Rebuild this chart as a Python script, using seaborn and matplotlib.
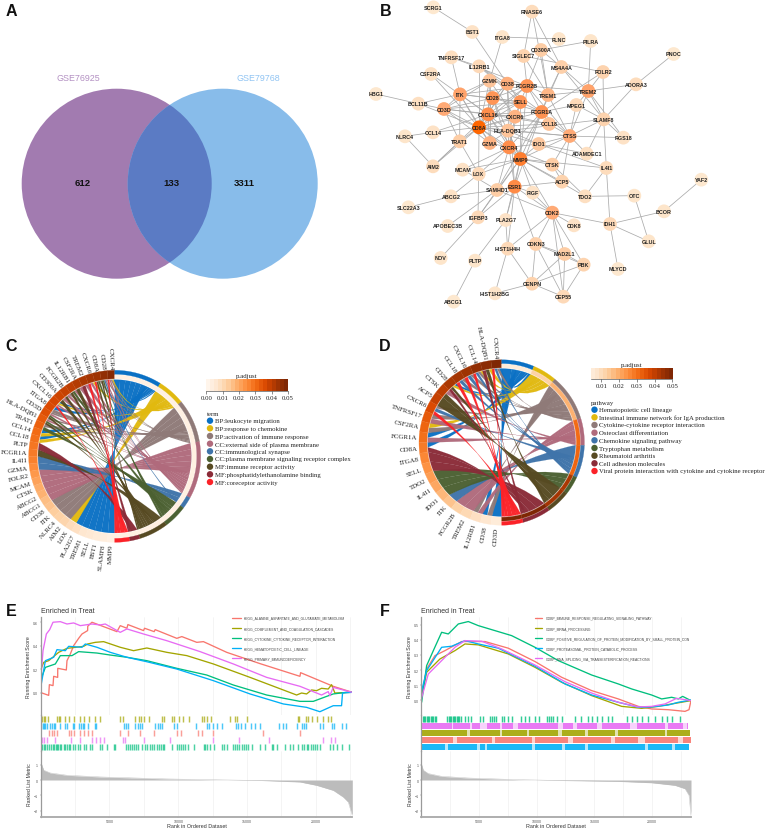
import numpy as np
import pandas as pd
import matplotlib
matplotlib.use('Agg')
import matplotlib.pyplot as plt
import seaborn as sns
from matplotlib.patches import Circle, PathPatch
from matplotlib.path import Path
from matplotlib.lines import Line2D

W, H = 770, 829

# ---- panel A
venn_names = ['GSE76925', 'GSE79768']
venn_counts = [612, 133, 3311]

# ---- panel B
node_names = ['SCRG1', 'RNASE6', 'BST1', 'ITGA8', 'FLNC', 'PILRA', 'CD300A', 'SIGLEC7', 'PNOC', 'TNFRSF17',
              'IL12RB1', 'MS4A4A', 'FOLR2', 'CSF2RA', 'GZMK', 'CD38', 'FCGR2B', 'ADORA3', 'TREM2', 'ITK',
              'TREM1', 'CD28', 'SELL', 'BCL11B', 'MPEG1', 'CD3D', 'FCGR1A', 'CXCL16', 'CXCR6', 'SLAMF8',
              'CCL18', 'CD8A', 'CCL14', 'HLA-DQB1', 'RGS18', 'NLRC4', 'CTSS', 'TRAT1', 'GZMA', 'IDO1',
              'CXCR4', 'ADAMDEC1', 'MMP9', 'AIM2', 'CTSK', 'MCAM', 'IL4I1', 'LOX', 'ACP5', 'SAMHD1',
              'ESR1', 'YAF2', 'FIGF', 'ABCG2', 'TDO2', 'OTC', 'SLC22A3', 'CDK2', 'BCOR', 'IGFBP3',
              'PLA2G7', 'APOBEC3B', 'CDK8', 'IDH1', 'GLUL', 'CDKN3', 'HIST1H4H', 'MAD2L1', 'NOV', 'PLTP',
              'PBK', 'MLYCD', 'CENPN', 'HIST1H2BG', 'CEP55', 'ABCG1', 'HBG1']
node_x = [145, 441, 262, 352, 522, 617, 468, 416, 866, 199,
          282, 529, 654, 138, 314, 367, 426, 753, 610, 225,
          489, 323, 406, 100, 574, 177, 470, 309, 390, 656,
          492, 282, 144, 369, 715, 60, 554, 224, 314, 461,
          372, 605, 406, 144, 502, 233, 664, 281, 531, 336,
          389, 949, 443, 198, 600, 748, 70, 502, 837, 279,
          362, 188, 567, 675, 791, 452, 368, 539, 167, 270,
          596, 699, 441, 330, 535, 206, -27]
node_y = [25, 38, 99, 114, 120, 126, 153, 171, 165, 175,
          202, 204, 219, 225, 245, 254, 261, 256, 276, 286,
          288, 297, 309, 314, 318, 330, 339, 346, 353, 361,
          375, 385, 400, 395, 416, 412, 411, 427, 432, 435,
          445, 464, 480, 502, 497, 512, 507, 525, 548, 573,
          563, 542, 581, 592, 592, 590, 625, 641, 637, 655,
          663, 681, 679, 675, 727, 735, 749, 765, 777, 785,
          797, 810, 854, 883, 893, 908, 285]
node_degree = [1, 5, 3, 2, 2, 2, 10, 8, 1, 4,
               6, 9, 8, 3, 12, 17, 24, 5, 20, 20,
               15, 24, 24, 4, 6, 18, 25, 26, 16, 8,
               12, 40, 3, 12, 3, 2, 18, 10, 16, 11,
               26, 4, 30, 5, 10, 3, 5, 6, 8, 10,
               27, 1, 3, 3, 4, 2, 1, 18, 2, 6,
               3, 2, 3, 6, 2, 9, 6, 10, 2, 2,
               8, 1, 8, 2, 6, 1, 1]
edges = [('SCRG1', 'BST1'), ('BST1', 'CD38'), ('ITGA8', 'FLNC'), ('ITGA8', 'GZMK'), ('RNASE6', 'SIGLEC7'),
         ('RNASE6', 'MS4A4A'), ('RNASE6', 'TREM1'), ('PILRA', 'CD300A'), ('PILRA', 'TREM2'), ('CD300A', 'FCGR2B'),
         ('CD300A', 'SIGLEC7'), ('CD300A', 'TREM1'), ('CD300A', 'MS4A4A'), ('SIGLEC7', 'FCGR2B'), ('SIGLEC7', 'TREM1'),
         ('SIGLEC7', 'FOLR2'), ('MS4A4A', 'TREM2'), ('MS4A4A', 'TREM1'), ('MS4A4A', 'FCGR1A'), ('MS4A4A', 'SLAMF8'),
         ('PNOC', 'ADORA3'), ('ADORA3', 'SLAMF8'), ('ADORA3', 'TREM2'), ('FOLR2', 'TREM2'), ('FOLR2', 'SLAMF8'),
         ('FOLR2', 'FCGR1A'), ('TREM2', 'FCGR2B'), ('TREM2', 'TREM1'), ('TREM2', 'SLAMF8'), ('TREM2', 'CTSS'),
         ('TREM2', 'RGS18'), ('TREM2', 'MPEG1'), ('TNFRSF17', 'IL12RB1'), ('TNFRSF17', 'ITK'), ('TNFRSF17', 'FCGR2B'),
         ('IL12RB1', 'SELL'), ('IL12RB1', 'CD8A'), ('IL12RB1', 'FCGR1A'), ('IL12RB1', 'CD38'), ('CSF2RA', 'CD8A'),
         ('CSF2RA', 'CXCL16'), ('BCL11B', 'HBG1'), ('BCL11B', 'ITK'), ('BCL11B', 'CD8A'), ('BCL11B', 'CD3D'),
         ('CD3D', 'ITK'), ('CD3D', 'CD8A'), ('CD3D', 'CD28'), ('CD3D', 'CXCL16'), ('CD3D', 'TRAT1'),
         ('CD3D', 'GZMA'), ('CD3D', 'CXCR6'), ('CD3D', 'SELL'), ('NLRC4', 'AIM2'), ('NLRC4', 'CCL14'),
         ('CCL14', 'CD8A'), ('CCL14', 'CXCL16'), ('TRAT1', 'CD8A'), ('TRAT1', 'ITK'), ('TRAT1', 'AIM2'),
         ('TRAT1', 'LOX'), ('AIM2', 'CD8A'), ('AIM2', 'CXCL16'), ('ITK', 'CD8A'), ('ITK', 'CD28'),
         ('ITK', 'CXCL16'), ('ITK', 'FCGR2B'), ('ITK', 'GZMA'), ('ITK', 'SELL'), ('GZMK', 'CD8A'),
         ('GZMK', 'CXCL16'), ('GZMK', 'ITK'), ('GZMK', 'FCGR2B'), ('GZMK', 'GZMA'), ('GZMK', 'CD3D'),
         ('GZMK', 'CXCR6'), ('CD38', 'CD8A'), ('CD38', 'CXCL16'), ('CD38', 'CD28'), ('CD38', 'FCGR2B'),
         ('CD38', 'SELL'), ('CD38', 'CXCR4'), ('CD38', 'ESR1'), ('CD28', 'CD8A'), ('CD28', 'CXCL16'),
         ('CD28', 'FCGR2B'), ('CD28', 'SELL'), ('CD28', 'CXCR4'), ('CD28', 'MMP9'), ('CD28', 'FCGR1A'),
         ('FCGR2B', 'FCGR1A'), ('FCGR2B', 'SELL'), ('FCGR2B', 'CD8A'), ('FCGR2B', 'CXCL16'), ('FCGR2B', 'TREM1'),
         ('FCGR2B', 'MMP9'), ('FCGR2B', 'CTSS'), ('SELL', 'CD8A'), ('SELL', 'CXCL16'), ('SELL', 'CXCR4'),
         ('SELL', 'MMP9'), ('SELL', 'FCGR1A'), ('SELL', 'CXCR6'), ('CXCL16', 'CD8A'), ('CXCL16', 'CXCR6'),
         ('CXCL16', 'CXCR4'), ('CXCL16', 'HLA-DQB1'), ('CXCL16', 'MMP9'), ('CXCL16', 'FCGR1A'), ('CXCL16', 'GZMA'),
         ('CXCL16', 'CCL18'), ('CD8A', 'CXCR6'), ('CD8A', 'CXCR4'), ('CD8A', 'HLA-DQB1'), ('CD8A', 'GZMA'),
         ('CD8A', 'IDO1'), ('CD8A', 'MMP9'), ('CD8A', 'FCGR1A'), ('CD8A', 'LOX'), ('CD8A', 'CCL18'),
         ('CD8A', 'CTSS'), ('FCGR1A', 'TREM1'), ('FCGR1A', 'CCL18'), ('FCGR1A', 'CXCR4'), ('FCGR1A', 'MMP9'),
         ('FCGR1A', 'CTSS'), ('FCGR1A', 'ESR1'), ('FCGR1A', 'SAMHD1'), ('FCGR1A', 'MPEG1'), ('CXCR6', 'CXCR4'),
         ('CXCR6', 'HLA-DQB1'), ('CXCR6', 'CCL18'), ('HLA-DQB1', 'CTSS'), ('HLA-DQB1', 'IDO1'), ('HLA-DQB1', 'GZMA'),
         ('HLA-DQB1', 'CXCR4'), ('HLA-DQB1', 'MMP9'), ('HLA-DQB1', 'SLAMF8'), ('CTSS', 'MPEG1'), ('CTSS', 'SLAMF8'),
         ('CTSS', 'CCL18'), ('CTSS', 'ADAMDEC1'), ('CTSS', 'ACP5'), ('CTSS', 'CTSK'), ('CTSS', 'MMP9'),
         ('CTSS', 'RGS18'), ('CTSS', 'IDO1'), ('CTSS', 'TREM1'), ('SLAMF8', 'RGS18'), ('SLAMF8', 'ADAMDEC1'),
         ('SLAMF8', 'IL4I1'), ('SLAMF8', 'MPEG1'), ('IDO1', 'MMP9'), ('IDO1', 'CXCR4'), ('IDO1', 'IL4I1'),
         ('IDO1', 'ADAMDEC1'), ('CXCR4', 'MMP9'), ('CXCR4', 'ESR1'), ('CXCR4', 'SAMHD1'), ('CXCR4', 'LOX'),
         ('CXCR4', 'MCAM'), ('CXCR4', 'GZMA'), ('CXCR4', 'CTSK'), ('MMP9', 'ESR1'), ('MMP9', 'CTSK'),
         ('MMP9', 'ACP5'), ('MMP9', 'LOX'), ('MMP9', 'MCAM'), ('MMP9', 'SAMHD1'), ('MMP9', 'CDK2'),
         ('MMP9', 'FIGF'), ('MMP9', 'IGFBP3'), ('MMP9', 'IL4I1'), ('MMP9', 'TDO2'), ('MMP9', 'PLA2G7'),
         ('ESR1', 'ACP5'), ('ESR1', 'SAMHD1'), ('ESR1', 'CDK2'), ('ESR1', 'CDKN3'), ('ESR1', 'IGFBP3'),
         ('ESR1', 'HIST1H4H'), ('ESR1', 'PLA2G7'), ('ESR1', 'FIGF'), ('CTSK', 'TDO2'), ('CTSK', 'ACP5'),
         ('IL4I1', 'TDO2'), ('IL4I1', 'IDH1'), ('TDO2', 'OTC'), ('OTC', 'GLUL'), ('BCOR', 'YAF2'),
         ('BCOR', 'IDH1'), ('IDH1', 'GLUL'), ('IDH1', 'MLYCD'), ('IDH1', 'CDK2'), ('SAMHD1', 'ABCG2'),
         ('SAMHD1', 'APOBEC3B'), ('SAMHD1', 'IGFBP3'), ('SAMHD1', 'CDK2'), ('SAMHD1', 'MCAM'), ('ABCG2', 'SLC22A3'),
         ('ABCG2', 'LOX'), ('IGFBP3', 'NOV'), ('IGFBP3', 'LOX'), ('PLA2G7', 'PLTP'), ('PLTP', 'ABCG1'),
         ('CDK2', 'CDK8'), ('CDK2', 'FIGF'), ('CDK2', 'CDKN3'), ('CDK2', 'MAD2L1'), ('CDK2', 'PBK'),
         ('CDK2', 'HIST1H4H'), ('CDK2', 'CEP55'), ('CDKN3', 'MAD2L1'), ('CDKN3', 'PBK'), ('CDKN3', 'CENPN'),
         ('CDKN3', 'CEP55'), ('HIST1H4H', 'CENPN'), ('HIST1H4H', 'HIST1H2BG'), ('HIST1H4H', 'PLA2G7'), ('MAD2L1', 'PBK'),
         ('MAD2L1', 'CENPN'), ('MAD2L1', 'CEP55'), ('PBK', 'CENPN'), ('PBK', 'CEP55'), ('CENPN', 'HIST1H2BG'),
         ('CENPN', 'CEP55')]

# ---- panel C, genes run from the top of the circle down the left side
c_terms = ['BP:leukocyte migration', 'BP:response to chemokine', 'BP:activation of immune response',
           'CC:external side of plasma membrane', 'CC:immunological synapse',
           'CC:plasma membrane signaling receptor complex', 'MF:immune receptor activity',
           'MF:phosphatidylethanolamine binding', 'MF:coreceptor activity']
c_term_share = [32, 18.6, 29.4, 38.7, 8, 16, 20, 7, 10]
c_genes = ['CXCR4', 'CD28', 'CD8A', 'CXCR6', 'TREM2', 'CSF2RA', 'IL12RB1', 'FCGR2B', 'CD300A', 'CXCL16',
           'ITGA8', 'CD3D', 'HLA-DQB1', 'TRAT1', 'CCL14', 'CCL18', 'PLTP', 'FCGR1A', 'IL4I1', 'GZMA',
           'FOLR2', 'MCAM', 'CTSK', 'ABCG2', 'ABCG1', 'CD38', 'ITK', 'NLRC4', 'AIM2', 'LOX',
           'PLA2G7', 'TREM1', 'SELL', 'BST1', 'SLAMF8', 'MMP9']
c_links = [[0, 1, 2, 3, 8], [2, 3, 4, 5, 6], [2, 5, 6, 8], [1, 3, 8], [3, 7], [3, 6], [3, 5, 6], [2, 3, 6], [3, 6],
           [0, 1, 3, 8], [0, 2], [2, 3, 5, 6], [2, 3, 5, 6], [2, 5], [0, 1], [0, 1], [7], [6], [4], [4],
           [3], [3], [3], [3], [3], [2], [2], [2], [2], [1],
           [0], [0], [0], [0], [0], [0]]
c_gene_padj = [.049, .047, .045, .044, .043, .042, .041, .040, .039, .038,
               .037, .036, .034, .033, .031, .030, .029, .028, .027, .025,
               .023, .021, .019, .018, .016, .015, .013, .012, .011, .009,
               .008, .006, .005, .004, .003, .002]
c_term_padj = [.002, .002, .002, .002, .002, .002, .002, .002, .002]

# ---- panel D
d_terms = ['Hematopoietic cell lineage', 'Intestinal immune network for IgA production',
           'Cytokine-cytokine receptor interaction', 'Osteoclast differentiation', 'Chemokine signaling pathway',
           'Tryptophan metabolism', 'Rheumatoid arthritis', 'Cell adhesion molecules',
           'Viral protein interaction with cytokine and cytokine receptor']
d_term_share = [23, 17, 33, 19, 23, 13, 17, 20, 15]
d_genes = ['CXCR4', 'HLA-DQB1', 'CCL14', 'CXCL16', 'CCL18', 'CD28', 'CTSK', 'ACP5', 'CXCR6', 'TNFRSF17',
           'CSF2RA', 'FCGR1A', 'CD8A', 'ITGA8', 'SELL', 'TDO2', 'IL4I1', 'IDO1', 'ITK', 'FCGR2B',
           'TREM2', 'IL12RB1', 'CD38', 'CD3D']
d_links = [[0, 2, 4, 8], [1, 6, 7], [1, 2, 4, 8], [2, 4, 8], [2, 4, 8], [0, 1, 6, 7], [3, 6], [6], [2, 4, 8], [2, 3],
           [1, 2], [0, 3], [0, 7], [7], [7], [5], [5], [5], [4], [3],
           [3], [2, 3], [0, 2], [0]]
d_gene_padj = [.050, .048, .047, .045, .044, .043, .041, .040, .037, .034,
               .032, .030, .028, .026, .024, .022, .020, .017, .015, .012,
               .010, .008, .006, .004]
d_term_padj = [.004, .012, .018, .031, .032, .043, .044, .050, .050]

term_colors = ['#0a70c4', '#e1b90f', '#8f7a78', '#b06a7c', '#3f74aa', '#4b6031', '#574a22', '#8a2b38', '#fb2228']

# ---- panel E
e_sets = ['KEGG_ALANINE_ASPARTATE_AND_GLUTAMATE_METABOLISM', 'KEGG_COMPLEMENT_AND_COAGULATION_CASCADES',
          'KEGG_CYTOKINE_CYTOKINE_RECEPTOR_INTERACTION', 'KEGG_HEMATOPOIETIC_CELL_LINEAGE',
          'KEGG_PRIMARY_IMMUNODEFICIENCY']
e_rank_red = [24, 581, 629, 895, 943, 1234, 1240, 1863, 1911, 2153, 2395, 2758, 3000, 3411, 3420, 3725, 5540, 5781, 6265, 6338,
              7475, 7547, 8249, 8321, 9894, 10257, 11345, 11829, 13522, 15941, 18844, 18892, 21263, 22642]
e_score_red = [0, -.023, .068, .06, .139, .13, .207, .193, .272, .329, .40, .462, .499, .528, .565, .599, .519, .57, .548, .579,
               .528, .548, .519, .536, .462, .477, .428, .434, .343, .247, .139, .170, .054, .003]
e_rank_olive = [24, 218, 581, 1306, 1911, 3121, 3411, 3967, 4572, 5781, 6749, 7716, 9168, 10619, 12555, 15216, 18602, 18965,
                19328, 19691, 20054, 20416, 20900, 21142, 21384, 22642]
e_score_olive = [.202, .258, .272, .343, .377, .394, .414, .428, .434, .386, .357, .380, .343, .315, .244, .130, -.020, -.003,
                 -.011, .023, .017, .037, .031, .068, -.003, .003]
e_rank_green = [24, 339, 1064, 1427, 2274, 2758, 4088, 5056, 6265, 7716, 9894, 12071, 14006, 16425, 18844, 19812, 21263, 22231, 22642]
e_score_green = [.116, .215, .244, .315, .315, .349, .337, .320, .301, .272, .207, .150, .065, -.020, -.074, -.074, -.011, .003, .003]
e_rank_blue = [24, 339, 943, 1185, 1790, 2032, 3000, 3241, 4088, 5056, 6265, 7716, 9894, 12555, 15216, 17635, 19328, 20295, 21263,
               21868, 21941, 22642]
e_score_blue = [.060, .272, .301, .366, .357, .394, .386, .414, .386, .343, .301, .263, .201, .102, -.011, -.096, -.125, -.162, -.111,
                -.111, -.003, .003]
e_rank_magenta = [24, 169, 411, 653, 895, 1427, 1911, 2395, 2879, 3725, 4330, 4692, 5781, 6265, 7475, 9168, 11587, 14006, 16425,
                  18844, 20416, 20900, 21021, 21263, 22642]
e_score_magenta = [.145, .357, .499, .536, .599, .604, .584, .593, .570, .584, .576, .584, .513, .542, .499, .442, .349, .244, .130,
                   .054, -.020, .009, -.026, .045, .003]
e_rug_olive = [97, 218, 339, 508, 1186, 1307, 1428, 1791, 2033, 2444, 2880, 3122, 3485, 3969, 4332, 5784, 5977, 6873, 7115, 7284,
               7478, 7841, 8809, 8930, 9535, 9656, 10019, 10333, 10745, 11713, 11882, 12076, 12366, 13770, 14133, 14302, 15028,
               18682, 18803, 19287, 19457, 19699, 20062, 20497, 20909, 21078]
e_rug_blue = [48, 145, 242, 339, 436, 702, 823, 944, 1065, 1428, 1791, 1912, 2348, 2444, 2759, 2928, 3074, 3170, 3412, 3969, 4041,
              6074, 6219, 6316, 6873, 7042, 7187, 7357, 8325, 8494, 8688, 8809, 9656, 9898, 11301, 12076, 12269, 12560, 12802,
              13165, 14182, 14375, 14544, 14859, 15270, 15585, 15948, 17352, 17642, 17836, 18610, 18973, 19142, 19287, 20304,
              20497, 21151, 21345, 21877, 22192]
e_rug_red = [605, 823, 944, 1186, 2033, 2202, 2444, 2831, 3122, 3412, 3727, 5784, 6316, 7236, 8204, 9898, 10188, 11398, 11713,
             12511, 16141, 18852]
e_rug_magenta = [97, 266, 460, 1065, 2202, 2880, 3727, 4041, 4332, 4622, 5977, 6147, 7478, 9414, 12560, 14447, 16625, 20497, 21078, 21393]
e_rug_green = [24, 121, 218, 339, 460, 605, 750, 895, 992, 1089, 1186, 1283, 1379, 1476, 1670, 1791, 1912, 2033, 2154, 2347, 2493,
               2686, 2880, 3122, 3315, 3557, 3727, 4283, 4453, 4816, 5348, 5421, 6219, 6340, 6510, 6655, 6800, 6945, 7091, 7357,
               7599, 7720, 7962, 8107, 8252, 8446, 8591, 8736, 8881, 8978, 9535, 9898, 10043, 10188, 10333, 10503, 10672, 11108,
               11834, 11955, 12124, 12318, 12608, 13165, 13334, 13528, 13963, 14109, 14302, 14447, 14617, 14786, 14931, 15101,
               15343, 15948, 16311, 16795, 16916, 17158, 17763, 18126, 18368, 18731, 18973, 19142, 19336, 19457, 19626, 19771,
               19941, 20110, 20304, 21030, 21272, 21514, 21877, 22433]
e_metric_rank = [0, 218, 702, 1912, 4332, 9172, 13576, 16000, 18852, 20062, 21272, 21998, 22361, 22650]
e_metric = [1.2, .64, .46, .31, .2, .07, 0, -.03, -.13, -.35, -.68, -1.12, -1.45, -2.33]

# ---- panel F
f_sets = ['GOBP_IMMUNE_RESPONSE_REGULATING_SIGNALING_PATHWAY', 'GOBP_MRNA_PROCESSING',
          'GOBP_POSITIVE_REGULATION_OF_PROTEIN_MODIFICATION_BY_SMALL_PROTEIN_CON',
          'GOBP_PROTEASOMAL_PROTEIN_CATABOLIC_PROCESS', 'GOBP_RNA_SPLICING_VIA_TRANSESTERIFICATION_REACTIONS']
f_rank_red = [0, 462, 1185, 2052, 3497, 5520, 7543, 9855, 12167, 14768, 17080, 18814, 19970, 21415, 22860, 23207, 23380]
f_score_red = [.020, .207, .295, .328, .388, .388, .344, .256, .152, .064, .009, -.040, -.057, -.062, -.073, -.062, -.002]
f_rank_olive = [0, 462, 1618, 2919, 3786, 4942, 7543, 9855, 12167, 14768, 17369, 19103, 20548, 21704, 23380]
f_score_olive = [.009, .185, .273, .328, .372, .366, .306, .218, .119, .031, -.040, -.053, -.040, -.024, -.002]
f_rank_green = [29, 462, 1185, 1763, 2341, 3208, 4075, 4942, 6387, 7832, 9855, 11878, 14768, 17080, 18236, 19970, 20837, 21704, 22282, 22658, 23380]
f_score_green = [-.013, .229, .352, .449, .438, .504, .520, .493, .460, .427, .350, .262, .167, .108, .075, .035, .009, .020, .009, .026, -.002]
f_rank_blue = [0, 462, 1763, 2630, 3786, 4942, 6676, 9855, 12456, 14768, 17080, 18814, 19970, 21415, 22282, 23380]
f_score_blue = [.053, .196, .350, .357, .394, .372, .344, .225, .108, .035, -.013, -.046, -.044, -.031, -.013, .002]
f_rank_magenta = [0, 607, 1763, 2919, 3786, 5231, 6965, 9855, 12456, 14768, 17080, 18814, 19970, 21126, 22138, 23380]
f_score_magenta = [.009, .174, .262, .350, .394, .390, .339, .233, .123, .048, -.013, -.044, -.040, -.024, .013, -.002]
f_rug_green = [116, 231, 347, 462, 578, 694, 809, 925, 1040, 1156, 1272, 2254, 2370, 2485, 2601, 2717, 2832, 2948, 3063, 3179, 3295,
               3410, 3786, 4075, 4306, 5086, 5375, 5953, 6127, 6300, 6474, 6965, 7196, 7543, 7832, 8641, 8988, 9335, 9855, 10202,
               10924, 11098, 11271, 11444, 11733, 12167, 13323, 13843, 14479, 14768, 15201, 15635, 16213, 16502, 17860, 18236,
               18669, 19103, 19681, 20259, 20837, 21270, 21704, 22426]
f_spans_magenta = [(0, 2630), (2775, 4220), (4420, 5090), (5660, 6820), (6960, 7980), (8410, 11880), (12310, 13180), (13470, 15200),
                   (15630, 18090), (18670, 21130), (21410, 22720), (23000, 23090)]
f_spans_olive = [(0, 3930), (4220, 6820), (6960, 9130), (9340, 11880), (12170, 14190), (14480, 16770), (17080, 21130), (21270, 23300)]
f_spans_red = [(0, 2775), (3060, 6100), (6390, 9570), (9860, 12740), (13180, 16480), (16770, 18810), (19390, 22290), (22720, 23380)]
f_spans_blue = [(0, 2060), (2340, 4800), (5090, 5520), (5660, 9570), (9860, 12170), (12450, 14190), (14480, 19390), (19680, 21700), (21990, 23210)]
f_metric_rank = [0, 173, 607, 1763, 4075, 8410, 11300, 17080, 19970, 21993, 22860, 23207, 23380]
f_metric = [1.08, .64, .42, .24, .13, .02, -.02, -.09, -.18, -.35, -.57, -1.0, -2.33]

gsea_colors = ['#F8766D', '#A3A500', '#00BF7D', '#00B0F6', '#E76BF3']

sns.set_theme(style='white')
plt.rcParams['font.family'] = ['Liberation Sans', 'DejaVu Sans']
SERIF = 'Liberation Serif'
oranges = sns.color_palette('Oranges', as_cmap=True)


def px_axes(fig, x0, y0, x1, y1):
    # axes placed by its pixel box, y measured from the top of the figure
    return fig.add_axes([x0 / W, 1 - y1 / H, (x1 - x0) / W, (y1 - y0) / H])


def ring(ax, cx, cy, r0, r1, a0, a1, color, zorder=3):
    # filled band between two radii, angles clockwise from 12 o'clock
    t = np.radians(np.linspace(a0, a1, 30))
    xs = np.r_[cx + r1 * np.sin(t), cx + r0 * np.sin(t[::-1])]
    ys = np.r_[cy - r1 * np.cos(t), cy - r0 * np.cos(t[::-1])]
    ax.fill(xs, ys, color=color, lw=0.2, zorder=zorder)


def ribbon(ax, cx, cy, r, a_low, a_high, b_low, b_high, color, pull=0.45):
    # twisted on purpose: low gene edge goes to the low term edge, which gives the hourglass waist
    def pt(a):
        return (cx + r * np.sin(np.radians(a)), cy - r * np.cos(np.radians(a)))

    def ctrl(p, q):
        # edges bend only part of the way to the centre
        return (pull * cx + (1 - pull) * (p[0] + q[0]) / 2, pull * cy + (1 - pull) * (p[1] + q[1]) / 2)

    verts = [pt(a_low)]
    codes = [Path.MOVETO]
    for a in np.linspace(a_low, a_high, 8)[1:]:
        verts.append(pt(a))
        codes.append(Path.LINETO)
    verts += [ctrl(pt(a_high), pt(b_high)), pt(b_high)]
    codes += [Path.CURVE3, Path.CURVE3]
    for b in np.linspace(b_high, b_low, 12)[1:]:
        verts.append(pt(b))
        codes.append(Path.LINETO)
    verts += [ctrl(pt(b_low), pt(a_low)), pt(a_low)]
    codes += [Path.CURVE3, Path.CURVE3]
    ax.add_patch(PathPatch(Path(verts, codes), facecolor=color, edgecolor=color, lw=0.1, alpha=0.97, zorder=2))


def chord(ax, cx, cy, radii, genes, links, gene_padj, term_padj, term_share):
    r_chord, r_inner, r_mid, r_out = radii
    n = len(genes)
    step = 180.0 / n
    # gene side width of every term, so the term side can follow it
    totals = [sum(step / len(l) for l in links if k in l) for k in range(len(term_colors))]
    term_start = np.r_[0, np.cumsum(term_share)] * 180.0 / sum(term_share)
    used = list(term_start[:-1])
    rows = []
    # bottom gene takes the first place in each term
    for i in range(n - 1, -1, -1):
        terms = links[i]
        top = 360 - i * step
        w = step / len(terms)
        for j, k in enumerate(terms):
            tw = w * (term_start[k + 1] - term_start[k]) / totals[k]
            rows.append((k, top - (j + 1) * w, top - j * w, used[k], used[k] + tw))
            used[k] += tw
    for k, a_low, a_high, b_low, b_high in sorted(rows, key=lambda row: row[0]):
        ribbon(ax, cx, cy, r_chord, a_low, a_high, b_low, b_high, term_colors[k])

    for i, gene in enumerate(genes):
        top = 360 - i * step
        ring(ax, cx, cy, r_inner, r_out, top - step, top, oranges(gene_padj[i] / 0.05))
        mid = top - step / 2
        rad = np.radians(mid)
        ax.text(cx + (r_out + 1.5) * np.sin(rad), cy - (r_out + 1.5) * np.cos(rad), gene, rotation=270 - mid,
                rotation_mode='anchor', ha='right', va='center', family=SERIF, fontsize=5, color='#222222')
    for k, color in enumerate(term_colors):
        a0, a1 = term_start[k], term_start[k + 1]
        ring(ax, cx, cy, r_inner, r_mid, a0, a1, oranges(term_padj[k] / 0.05))
        ring(ax, cx, cy, r_mid + 0.5, r_out, a0, a1, color)


def chord_legend(fig, ax, box, ticks, tick_labels, low, title, terms, title_x, title_y, dot_x, text_x, row_ys):
    cax = px_axes(fig, *box)
    vals = np.linspace(low, 0.05, 20).reshape(1, -1)
    cax.imshow(vals, aspect='auto', cmap=oranges, vmin=0, vmax=0.05, extent=[low, 0.05, 0, 1])
    cax.set_yticks([])
    cax.set_xticks(ticks)
    cax.set_xticklabels(tick_labels, family=SERIF, fontsize=4.9, color='#222222')
    cax.tick_params(axis='x', length=2, width=0.4, pad=1, bottom=True, color='#333333')
    sns.despine(ax=cax, left=True, top=True, right=True)
    cax.spines['bottom'].set_linewidth(0.4)
    cax.spines['bottom'].set_color('#333333')
    ax.text((box[0] + box[2]) / 2, box[1] - 3.5, 'p.adjust', ha='center', va='center', family=SERIF, fontsize=4.9, color='#222222')
    ax.text(title_x, title_y, title, ha='left', va='center', family=SERIF, fontsize=4.9, color='#222222')
    for name, color, y in zip(terms, term_colors, row_ys):
        ax.add_patch(Circle((dot_x, y), 3.2, color=color, lw=0))
        ax.text(text_x, y, name, ha='left', va='center', family=SERIF, fontsize=4.9, color='#222222')


def gsea_panel(fig, box, xlim, ylim_top, y_ticks, xticks, curves, names, rug_draw, metric_x, metric_y,
               legend_x, title='Enriched in Treat'):
    x0, y0, x1, y1, y2, y3 = box
    top = px_axes(fig, x0, y0, x1, y1)
    rug = px_axes(fig, x0, y1, x1, y2)
    low = px_axes(fig, x0, y2, x1, y3)
    for a in (top, rug, low):
        a.set_xlim(*xlim)
        a.patch.set_alpha(0)
        sns.despine(ax=a)
        a.spines['left'].set_color('#9a9a9a')
        a.spines['left'].set_linewidth(0.9)
    grid = [v for v in range(2500, int(xlim[1]), 2500)]
    for a in (top, low):
        for v in grid:
            a.axvline(v, color='#ececec', lw=0.4, zorder=0)
    for (rx, ry), color in zip(curves, gsea_colors):
        sns.lineplot(x=rx, y=ry, color=color, lw=0.95, estimator=None, sort=False, ax=top)
    top.set_ylim(*ylim_top)
    top.set_yticks(y_ticks)
    top.set_yticklabels([f'{v:.1f}' for v in y_ticks], fontsize=2.6, color='#555555')
    top.set_xticks([])
    top.spines['bottom'].set_visible(False)
    top.set_ylabel('Running Enrichment Score', fontsize=3.7, color='#333333', labelpad=1.5)
    top.tick_params(axis='y', length=1, width=0.3, pad=0.8, left=True, color='#777777')
    top.set_title(title, loc='left', fontsize=5, color='#333333', pad=3.5)
    for i, (name, color) in enumerate(zip(names, gsea_colors)):
        ly = 0.995 - i * 0.1035
        top.add_line(Line2D([legend_x[0], legend_x[1]], [ly, ly], transform=top.transAxes, color=color, lw=0.95, clip_on=False))
        top.text(legend_x[2], ly, name, transform=top.transAxes, fontsize=2.45, va='center', color='#444444', clip_on=False)

    rug.set_ylim(5, 0)
    rug.set_xticks([])
    rug.set_yticks([])
    rug.spines['bottom'].set_visible(False)
    rug_draw(rug)

    fill = pd.DataFrame({'rank': metric_x, 'metric': metric_y})
    low.fill_between(fill['rank'], 0, fill['metric'], color='#bcbcbc', lw=0)
    sns.lineplot(data=fill, x='rank', y='metric', color='#bcbcbc', lw=0.3, ax=low)
    low.set_ylim(-2.42, 1.91)
    low.set_yticks([1, 0, -1, -2])
    low.set_yticklabels(['1', '0', '\u22121', '\u22122'], fontsize=2.6, color='#555555')
    low.set_xticks(xticks)
    low.set_xticklabels([str(v) for v in xticks], fontsize=2.6, color='#555555')
    low.tick_params(axis='both', length=1, width=0.3, pad=0.8, left=True, bottom=True, color='#777777')
    low.set_ylabel('Ranked List Metric', fontsize=3.7, color='#333333', labelpad=1.5)
    low.set_xlabel('Rank in Ordered Dataset', fontsize=3.9, color='#333333', labelpad=-0.5)
    low.spines['bottom'].set_color('#a8a8a8')
    low.spines['bottom'].set_linewidth(1.3)


def draw_rug_e(ax):
    rows = [(e_rug_olive, gsea_colors[1]), (e_rug_blue, gsea_colors[3]), (e_rug_red, gsea_colors[0]),
            (e_rug_magenta, gsea_colors[4]), (e_rug_green, gsea_colors[2])]
    for i, (ranks, color) in enumerate(rows):
        ax.vlines(ranks, i + 0.1, i + 0.95, color=color, lw=1.05, alpha=0.7)


def draw_rug_f(ax):
    ax.vlines(f_rug_green, 0.1, 0.95, color=gsea_colors[2], lw=1.05, alpha=0.8)
    rows = [(f_spans_magenta, gsea_colors[4]), (f_spans_olive, gsea_colors[1]), (f_spans_red, gsea_colors[0]),
            (f_spans_blue, gsea_colors[3])]
    for i, (spans, color) in enumerate(rows, start=1):
        ax.broken_barh([(spans[0][0], spans[-1][1])], (i + 0.08, 0.85), color=color, alpha=0.3, lw=0)
        ax.broken_barh([(a, b - a) for a, b in spans], (i + 0.08, 0.85), color=color, alpha=0.85, lw=0)


fig = plt.figure(figsize=(W / 100, H / 100), dpi=100)
base = fig.add_axes([0, 0, 1, 1])
base.set_xlim(0, W)
base.set_ylim(H, 0)
base.axis('off')

for letter, (lx, ly) in zip('ABCDEF', [(11.5, 11), (385.5, 11), (11.5, 346.7), (385, 346.7), (11.5, 611.7), (385, 611.7)]):
    base.text(lx, ly, letter, fontsize=11.5, fontweight='bold', ha='center', va='center', color='#111111')

# A: venn
left = Circle((116.7, 184.7), 95, color='#a27bb0', lw=0)
right = Circle((222.7, 184.7), 95, color='#88bcea', lw=0)
both = Circle((116.7, 184.7), 95, color='#5b7bc4', lw=0)
base.add_patch(left)
base.add_patch(right)
base.add_patch(both)
both.set_clip_path(Circle((222.7, 184.7), 95, transform=base.transData))
base.text(78.7, 78.3, venn_names[0], color='#b390c2', fontsize=6.4, ha='center', va='center')
base.text(258.7, 78.3, venn_names[1], color='#90c4f3', fontsize=6.4, ha='center', va='center')
for val, vx in zip(venn_counts, [82.7, 171, 244]):
    base.text(vx, 183.7, str(val), fontsize=6.8, fontweight='bold', ha='center', va='center', color='#111111')

# B: network, layout units are 3 per pixel
net = px_axes(fig, 385, 0, 770, 330)
net.set_xlim(0, 1155)
net.set_ylim(990, 0)
net.axis('off')
pos = dict(zip(node_names, zip(node_x, node_y)))
for a, b in edges:
    net.plot([pos[a][0], pos[b][0]], [pos[a][1], pos[b][1]], color='#ababab', lw=0.55, zorder=1, clip_on=False)
nodes = pd.DataFrame({'name': node_names, 'x': node_x, 'y': node_y, 'degree': node_degree})
node_cmap = sns.blend_palette(['#fde8cf', '#fdcea6', '#ffa873', '#ff8a45', '#ff6600'], as_cmap=True)
sns.scatterplot(data=nodes, x='x', y='y', hue='degree', hue_norm=(1, 36), palette=node_cmap, s=98, linewidth=0,
                legend=False, ax=net, zorder=2, clip_on=False)
net.set_xlim(0, 1155)
net.set_ylim(990, 0)
for name, nx, ny in zip(node_names, node_x, node_y):
    net.text(nx, ny, name, fontsize=3.9, fontweight='bold', ha='center', va='center', color='#222222', zorder=3, clip_on=False)

# C and D: chord diagrams
chord(base, 114.7, 457.3, (76.7, 77.5, 81.6, 86), c_genes, c_links, c_gene_padj, c_term_padj, c_term_share)
chord_legend(fig, base, (206.3, 380, 288, 392), [0, .01, .02, .03, .04, .05],
             ['0.00', '0.01', '0.02', '0.03', '0.04', '0.05'], 0.0, 'term', c_terms, 206.5, 414, 210, 215,
             [421.7, 429.3, 437, 444.7, 452.3, 460, 467.7, 475.3, 483])
chord(base, 501.7, 443.5, (74, 74.7, 78.5, 82.7), d_genes, d_links, d_gene_padj, d_term_padj, d_term_share)
chord_legend(fig, base, (590.7, 369.3, 672.3, 380), [.01, .02, .03, .04, .05],
             ['0.01', '0.02', '0.03', '0.04', '0.05'], 0.004, 'pathway', d_terms, 590.7, 403.3, 594.5, 599,
             [410.7, 418.3, 426, 433.7, 441.3, 449, 456.7, 464.3, 472])

# E and F: enrichment plots
gsea_panel(fig, (40.7, 618.3, 352.3, 716, 751.8, 818), (0, 22650), (-.19, .641), [0, .2, .4, .6], [5000, 10000, 15000, 20000],
           [(e_rank_red, e_score_red), (e_rank_olive, e_score_olive), (e_rank_green, e_score_green),
            (e_rank_blue, e_score_blue), (e_rank_magenta, e_score_magenta)],
           e_sets, draw_rug_e, e_metric_rank, e_metric, (0.615, 0.643, 0.652))
gsea_panel(fig, (421.3, 618.3, 691, 716, 751.8, 818), (0, 23380), (-.097, .548), [0, .1, .2, .3, .4, .5], [5000, 10000, 15000, 20000],
           [(f_rank_red, f_score_red), (f_rank_olive, f_score_olive), (f_rank_green, f_score_green),
            (f_rank_blue, f_score_blue), (f_rank_magenta, f_score_magenta)],
           f_sets, draw_rug_f, f_metric_rank, f_metric, (0.42, 0.449, 0.463))

fig.savefig('out.png', dpi=100)
